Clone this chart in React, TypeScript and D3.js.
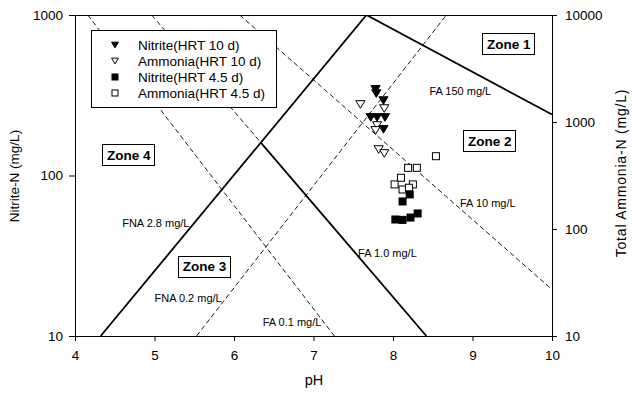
import React, { useEffect, useRef } from "react";
import * as d3 from "d3";

const W = 635;
const H = 393;
const FONT = "'Liberation Sans', Arial, sans-serif";

// plot frame (pixels)
const plot = { left: 75, right: 552, top: 15, bottom: 336 };

// tick values
const phTicks = [4, 5, 6, 7, 8, 9, 10];
const nitriteTicks = [10, 100, 1000];
const ammoniaTicks = [10, 100, 1000, 10000];

// measured points: [pH, concentration mg/L]
const nitriteHrt10 = [
  [7.78, 344], [7.79, 324], [7.88, 293], [7.72, 230],
  [7.8, 230], [7.9, 230], [7.88, 194],
];
const ammoniaHrt10 = [
  [7.59, 1458], [7.89, 1336], [7.8, 927], [7.78, 834],
  [7.82, 553], [7.89, 508],
];
const nitriteHrt45 = [
  [8.21, 76.2], [8.12, 68.9], [8.03, 53.2], [8.12, 52.9],
  [8.22, 54.7], [8.31, 58.0],
];
const ammoniaHrt45 = [
  [8.54, 479], [8.19, 373], [8.3, 373], [8.1, 301],
  [8.02, 261], [8.12, 234], [8.25, 261], [8.2, 243],
];

// FNA isolines, nitrite-N (left axis)
const fnaLines = [
  { name: "FNA 2.8 mg/L", ph: [4.323, 7.666], nitrite: [10, 1000] },
  { name: "FNA 0.2 mg/L", ph: [5.529, 8.671], nitrite: [10, 1000] },
];
// FA isolines, total ammonia-N (right axis)
const faLines = [
  { name: "FA 0.1 mg/L", ph: [4.16, 7.263], ammonia: [10000, 10] },
  { name: "FA 1.0 mg/L", ph: [4.964, 8.42], ammonia: [10000, 10] },
  { name: "FA 10 mg/L", ph: [6.072, 10], ammonia: [10000, 27.2] },
  { name: "FA 150 mg/L", ph: [7.666, 10], ammonia: [10000, 1175] },
];

const zones = ["Zone 1", "Zone 2", "Zone 3", "Zone 4"];

// layout: label anchors in [pH, total ammonia-N]
const labelPos: Record<string, [number, number]> = {
  "FNA 2.8 mg/L": [5.017, 105],
  "FNA 0.2 mg/L": [5.423, 20.6],
  "FA 0.1 mg/L": [6.73, 12.5],
  "FA 1.0 mg/L": [7.93, 55.3],
  "FA 10 mg/L": [9.193, 160],
  "FA 150 mg/L": [8.847, 1807],
  "Zone 1": [9.457, 5358],
  "Zone 2": [9.218, 667],
  "Zone 3": [5.63, 45.1],
  "Zone 4": [4.675, 492],
};
const solidLines = ["FNA 2.8 mg/L", "FA 150 mg/L"];

const x = d3.scaleLinear().domain([4, 10]).range([plot.left, plot.right]);
const yL = d3.scaleLog().domain([10, 1000]).range([plot.bottom, plot.top]);
const yR = d3.scaleLog().domain([10, 10000]).range([plot.bottom, plot.top]);

const line = d3.line<[number, number]>().x((d) => d[0]).y((d) => d[1]);

const downTri = (cx: number, cy: number, w: number, h: number) =>
  `M${cx - w / 2},${cy - h / 2}L${cx + w / 2},${cy - h / 2}L${cx},${cy + h / 2}Z`;

function intersect(a: number[][], b: number[][]) {
  const [p1, p2] = a;
  const [p3, p4] = b;
  const d = (p1[0] - p2[0]) * (p3[1] - p4[1]) - (p1[1] - p2[1]) * (p3[0] - p4[0]);
  const t = ((p1[0] - p3[0]) * (p3[1] - p4[1]) - (p1[1] - p3[1]) * (p3[0] - p4[0])) / d;
  return [p1[0] + t * (p2[0] - p1[0]), p1[1] + t * (p2[1] - p1[1])] as [number, number];
}

export default function App() {
  const xAxisRef = useRef<SVGGElement>(null);
  const yLRef = useRef<SVGGElement>(null);
  const yRRef = useRef<SVGGElement>(null);

  useEffect(() => {
    const fmt = d3.format("d");
    const style = (g: any) => {
      g.attr("font-family", FONT).attr("font-size", 13.5);
      g.selectAll("text").attr("fill", "#000");
      g.selectAll("line,path").attr("stroke", "#000");
    };
    d3.select(xAxisRef.current!)
      .call(d3.axisBottom(x).tickValues(phTicks).tickSize(5).tickSizeOuter(0).tickPadding(9).tickFormat(fmt as any))
      .call(style);
    d3.select(yLRef.current!)
      .call(d3.axisLeft(yL).tickValues(nitriteTicks).tickSize(6).tickSizeOuter(0).tickPadding(6).tickFormat(fmt as any))
      .call(style);
    d3.select(yRRef.current!)
      .call(d3.axisRight(yR).tickValues(ammoniaTicks).tickSize(5).tickSizeOuter(0).tickPadding(8).tickFormat(fmt as any))
      .call(style);
  }, []);

  const fnaPx = fnaLines.map((l) => ({
    name: l.name,
    pts: l.ph.map((p, i) => [x(p), yL(l.nitrite[i])] as [number, number]),
  }));
  const faPx = faLines.map((l) => ({
    name: l.name,
    pts: l.ph.map((p, i) => [x(p), yR(l.ammonia[i])] as [number, number]),
  }));

  // FA 1.0 becomes a zone boundary below its crossing with FNA 2.8
  const fa1 = faPx.find((l) => l.name === "FA 1.0 mg/L")!;
  const fna28 = fnaPx.find((l) => l.name === "FNA 2.8 mg/L")!;
  const cross = intersect(fa1.pts, fna28.pts);

  const segments: { pts: [number, number][]; solid: boolean }[] = [];
  [...fnaPx, ...faPx].forEach((l) => {
    if (l.name === "FA 1.0 mg/L") {
      segments.push({ pts: [l.pts[0], cross], solid: false });
      segments.push({ pts: [cross, l.pts[1]], solid: true });
    } else {
      segments.push({ pts: l.pts, solid: solidLines.includes(l.name) });
    }
  });

  const lineLabels = [...fnaLines, ...faLines].map((l) => l.name);

  const legendItems = [
    { label: "Nitrite(HRT 10 d)", kind: "triFilled" },
    { label: "Ammonia(HRT 10 d)", kind: "triOpen" },
    { label: "Nitrite(HRT 4.5 d)", kind: "sqFilled" },
    { label: "Ammonia(HRT 4.5 d)", kind: "sqOpen" },
  ];

  const marker = (kind: string, cx: number, cy: number, s: number, key?: any) => {
    const open = kind.endsWith("Open");
    const fill = open ? "#fff" : "#000";
    if (kind.startsWith("tri")) {
      return (
        <path key={key} d={downTri(cx, cy, s * 1.15, s * 0.95)} fill={fill} stroke="#000" strokeWidth={1} />
      );
    }
    return (
      <rect key={key} x={cx - s / 2} y={cy - s / 2} width={s} height={s} fill={fill} stroke="#000" strokeWidth={1} />
    );
  };

  return (
    <svg width={W} height={H} style={{ position: "absolute", left: 0, top: 0, background: "#fff" }} fontFamily={FONT}>
      <rect width={W} height={H} fill="#fff" />
      <defs>
        <clipPath id="plotClip">
          <rect x={plot.left} y={plot.top} width={plot.right - plot.left + 1} height={plot.bottom - plot.top + 1} />
        </clipPath>
      </defs>

      <g clipPath="url(#plotClip)">
        {segments.map((s, i) => (
          <path
            key={i}
            d={line(s.pts)!}
            fill="none"
            stroke="#000"
            strokeWidth={s.solid ? 1.8 : 0.9}
            strokeDasharray={s.solid ? undefined : "5,3"}
          />
        ))}
      </g>

      {lineLabels.map((name) => (
        <text key={name} x={x(labelPos[name][0])} y={yR(labelPos[name][1])} textAnchor="middle" fontSize={11}>
          {name}
        </text>
      ))}

      {zones.map((z) => {
        const cx = x(labelPos[z][0]);
        const cy = yR(labelPos[z][1]);
        return (
          <g key={z}>
            <rect x={Math.round(cx - 26.5) + 0.5} y={Math.round(cy - 10.5) + 0.5} width={52} height={21} fill="#fff" stroke="#000" />
            <text x={cx} y={cy + 5} textAnchor="middle" fontSize={13.5} fontWeight="bold">
              {z}
            </text>
          </g>
        );
      })}

      {ammoniaHrt10.map((d, i) => marker("triOpen", x(d[0]), yR(d[1]), 8, "a10" + i))}
      {nitriteHrt10.map((d, i) => marker("triFilled", x(d[0]), yL(d[1]), 8, "n10" + i))}
      {ammoniaHrt45.map((d, i) => marker("sqOpen", x(d[0]), yR(d[1]), 7, "a45" + i))}
      {nitriteHrt45.map((d, i) => marker("sqFilled", x(d[0]), yL(d[1]), 7, "n45" + i))}

      {/* legend */}
      <g>
        <rect x={91.5} y={30.5} width={185} height={77} fill="#fff" stroke="#000" />
        {legendItems.map((it, i) => (
          <g key={it.label}>
            {marker(it.kind, 115, 45 + i * 16, 6)}
            <text x={138} y={49.5 + i * 16} fontSize={13.5}>
              {it.label}
            </text>
          </g>
        ))}
      </g>

      {/* frame */}
      <line x1={plot.left + 0.5} x2={plot.right + 0.5} y1={plot.top + 0.5} y2={plot.top + 0.5} stroke="#000" />
      <g ref={xAxisRef} transform={`translate(0,${plot.bottom})`} />
      <g ref={yLRef} transform={`translate(${plot.left},0)`} />
      <g ref={yRRef} transform={`translate(${plot.right},0)`} />

      <text x={x(7) + 0.5} y={385} textAnchor="middle" fontSize={14.5}>
        pH
      </text>
      <text transform={`translate(19,176) rotate(-90)`} textAnchor="middle" fontSize={13.5}>
        Nitrite-N (mg/L)
      </text>
      <text transform={`translate(626,173) rotate(-90)`} textAnchor="middle" fontSize={14} letterSpacing={0.8}>
        Total Ammonia-N (mg/L)
      </text>
    </svg>
  );
}
